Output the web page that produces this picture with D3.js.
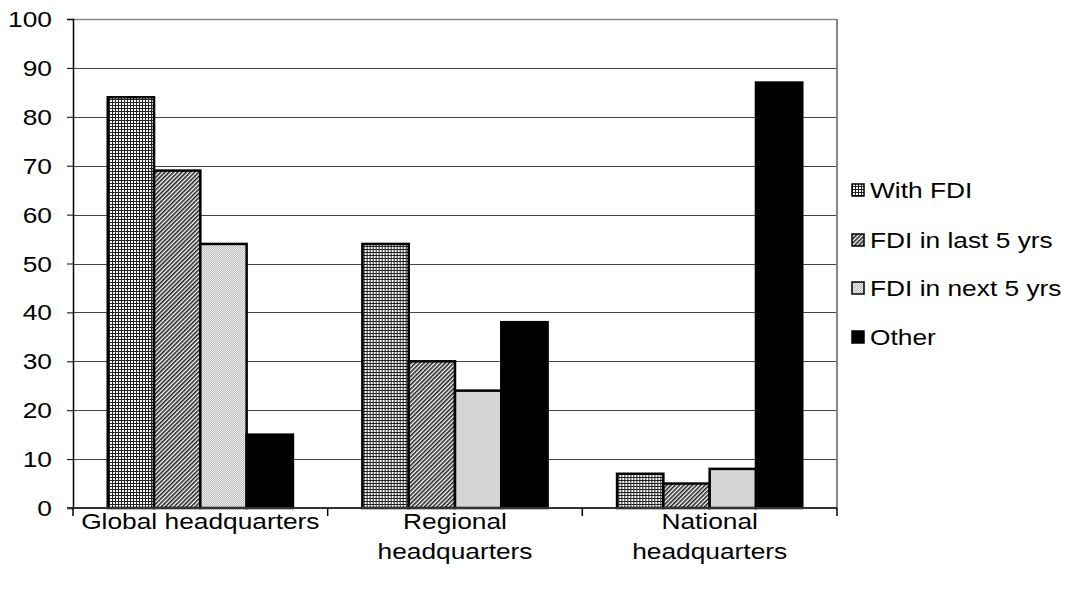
<!DOCTYPE html>
<html>
<head>
<meta charset="utf-8">
<script src="https://cdn.jsdelivr.net/npm/d3@7"></script>
<style>
  html, body { margin: 0; padding: 0; background: #fff; }
  svg { display: block; font-family: "Liberation Sans", Arial, sans-serif; }
</style>
</head>
<body>
<svg id="chart" width="1071" height="594"></svg>
<script>
// Categories (each label may wrap onto two lines)
const categories = ["Global headquarters", "Regional headquarters", "National headquarters"];
const categoryLines = [["Global headquarters"], ["Regional", "headquarters"], ["National", "headquarters"]];
const seriesNames = ["With FDI", "FDI in last 5 yrs", "FDI in next 5 yrs", "Other"];
const withFdi = [84, 54, 7];
const fdiLast5 = [69, 30, 5];
const fdiNext5 = [54, 24, 8];
const other = [15, 38, 87];
const yTicks = [0, 10, 20, 30, 40, 50, 60, 70, 80, 90, 100];

const seriesValues = [withFdi, fdiLast5, fdiNext5, other];
const fills = ["url(#pGrid)", "url(#pDiag)", "url(#pDots)", "#000"];

const FONT = 22.5;     // label font size
const STRETCH = 1.17;  // horizontal widening of label glyphs

const svg = d3.select("#chart");
const margin = { left: 73, right: 234, top: 19, bottom: 86 };
const W = 1071, H = 594;
const x0 = margin.left, x1 = W - margin.right;
const y0 = H - margin.bottom, y1 = margin.top;

// Places a wide-set text label at (x, y)
function label(sel, x, y, anchor) {
  return sel.append("text")
    .attr("transform", `translate(${x},${y}) scale(${STRETCH},1)`)
    .attr("text-anchor", anchor)
    .attr("font-size", FONT).attr("fill", "#000");
}

// Fill patterns
const defs = svg.append("defs");
const pg = defs.append("pattern").attr("id", "pGrid").attr("patternUnits", "userSpaceOnUse")
  .attr("width", 3).attr("height", 3);
pg.append("rect").attr("width", 3).attr("height", 3).attr("fill", "#fff");
pg.append("rect").attr("x", 0).attr("y", 0).attr("width", 1).attr("height", 3).attr("fill", "#222");
pg.append("rect").attr("x", 0).attr("y", 0).attr("width", 3).attr("height", 1).attr("fill", "#222");

const pd = defs.append("pattern").attr("id", "pDiag").attr("patternUnits", "userSpaceOnUse")
  .attr("width", 3).attr("height", 3).attr("patternTransform", "rotate(45)");
pd.append("rect").attr("width", 3).attr("height", 3).attr("fill", "#fff");
pd.append("rect").attr("x", 0).attr("y", 0).attr("width", 1.6).attr("height", 3).attr("fill", "#222");

const pt = defs.append("pattern").attr("id", "pDots").attr("patternUnits", "userSpaceOnUse")
  .attr("width", 2).attr("height", 2);
pt.append("rect").attr("width", 2).attr("height", 2).attr("fill", "#eee");
pt.append("rect").attr("x", 0).attr("y", 0).attr("width", 1).attr("height", 1).attr("fill", "#bbb");
pt.append("rect").attr("x", 1).attr("y", 1).attr("width", 1).attr("height", 1).attr("fill", "#bbb");

// Scales
const y = d3.scaleLinear().domain([0, 100]).range([y0, y1]);
const xBand = d3.scaleBand().domain(categories).range([x0, x1]).paddingInner(0).paddingOuter(0);
const xInner = d3.scaleBand().domain(seriesNames)
  .range([0, xBand.bandwidth()]).paddingInner(0).paddingOuter(0.75);

// Gridlines
svg.append("g").selectAll("line").data(yTicks.filter(d => d > 0 && d < 100)).join("line")
  .attr("x1", x0).attr("x2", x1)
  .attr("y1", d => Math.round(y(d)) + 0.5).attr("y2", d => Math.round(y(d)) + 0.5)
  .attr("stroke", "#444").attr("stroke-width", 1);

// Plot frame: top and right edges
svg.append("line").attr("x1", x0).attr("x2", x1).attr("y1", y1 + 0.5).attr("y2", y1 + 0.5)
  .attr("stroke", "#888").attr("stroke-width", 1.5);
svg.append("line").attr("x1", x1).attr("x2", x1).attr("y1", y1).attr("y2", y0)
  .attr("stroke", "#888").attr("stroke-width", 2);

// Bars
const groups = svg.append("g").selectAll("g").data(categories).join("g")
  .attr("transform", d => `translate(${xBand(d)},0)`);
groups.selectAll("rect").data((c, ci) => seriesNames.map((s, si) => ({ s, si, v: seriesValues[si][ci] })))
  .join("rect")
  .attr("x", d => xInner(d.s))
  .attr("width", xInner.bandwidth())
  .attr("y", d => y(d.v))
  .attr("height", d => y(0) - y(d.v))
  .attr("fill", d => fills[d.si])
  .attr("stroke", "#000").attr("stroke-width", 2.5);

// Y axis
const yAxis = d3.axisLeft(y).tickValues(yTicks).tickSize(6).tickFormat("");
const gy = svg.append("g").attr("transform", `translate(${x0},0)`).call(yAxis);
gy.select(".domain").attr("stroke", "#000").attr("stroke-width", 1.5);
gy.selectAll(".tick line").attr("stroke", "#000").attr("stroke-width", 1);
yTicks.forEach(t => {
  label(svg, x0 - 21, y(t) + 8, "end").text(t);
});

// X axis line and category boundary ticks
svg.append("line").attr("x1", x0 - 6).attr("x2", x1).attr("y1", y0).attr("y2", y0)
  .attr("stroke", "#333").attr("stroke-width", 2);
const bounds = categories.map(c => xBand(c)).concat([x1]);
svg.append("g").selectAll("line").data(bounds).join("line")
  .attr("x1", d => d).attr("x2", d => d).attr("y1", y0).attr("y2", y0 + 8)
  .attr("stroke", "#000").attr("stroke-width", 1.5);

// Category labels
categories.forEach((c, i) => {
  const cx = xBand(c) + xBand.bandwidth() / 2;
  categoryLines[i].forEach((line, li) => {
    label(svg, cx, y0 + 21 + li * 29.5, "middle").text(line);
  });
});

// Legend
const ly = [190, 240, 288, 337];
seriesNames.forEach((s, i) => {
  svg.append("rect").attr("x", 852).attr("y", ly[i] - 6).attr("width", 12).attr("height", 12)
    .attr("fill", fills[i]).attr("stroke", "#000").attr("stroke-width", 1.5);
  label(svg, 870, ly[i] + 8, "start").text(s);
});
</script>
</body>
</html>
